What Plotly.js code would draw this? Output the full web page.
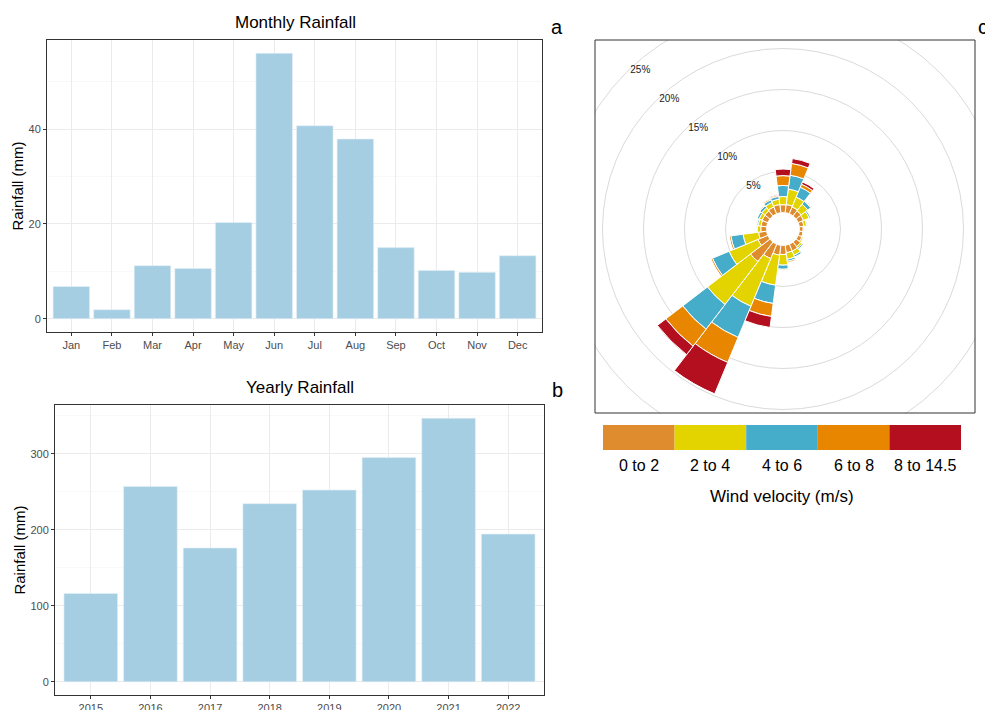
<!DOCTYPE html>
<html>
<head>
<meta charset="utf-8">
<script src="https://cdn.plot.ly/plotly-3.0.1.min.js"></script>
<style>
html,body{margin:0;padding:0;overflow:hidden;background:#fff;width:985px;height:710px;}
#chart{width:1040px;height:710px;}
</style>
</head>
<body>
<div id="chart"></div>
<script>
// ---------- DATA ----------
const months = ['Jan','Feb','Mar','Apr','May','Jun','Jul','Aug','Sep','Oct','Nov','Dec'];
const monthlyRain = [6.8, 1.9, 11.2, 10.6, 20.3, 56.0, 40.7, 37.9, 15.0, 10.2, 9.8, 13.3];

const years = ['2015','2016','2017','2018','2019','2020','2021','2022'];
const yearlyRain = [116.4, 257.3, 176.2, 234.6, 252.5, 295.2, 347.1, 194.5];

const directions = [0,15,30,45,60,75,90,105,120,135,150,165,180,195,210,225,240,255,270,285,300,315,330,345];
const speedBins = ['0 to 2','2 to 4','4 to 6','6 to 8','8 to 14.5'];
// frequency (%) per direction for each wind speed class
const freq0to2  = [0.95,1.0,0.9,0.8,0.7,0.55,0.45,0.45,0.5,0.7,0.9,0.9,1.1,1.2,1.9,3.0,1.3,1.0,0.7,0.7,0.75,0.8,0.9,1.0];
const freq2to4  = [1.0,1.9,1.3,1.0,0.75,0.35,0.1,0.1,0.2,0.25,0.55,0.8,1.3,3.7,6.3,6.6,3.8,1.9,0.45,0.35,0.4,0.45,0.6,0.65];
const freq4to6  = [1.35,1.7,1.3,0.45,0.2,0.1,0,0,0.05,0.15,0.25,0.25,0.5,2.25,4.1,3.8,2.2,1.5,0.05,0.15,0.25,0.3,0.35,0.35];
const freq6to8  = [1.2,1.45,0.4,0.1,0.05,0,0,0,0,0,0.05,0.15,0.1,1.6,3.3,2.6,0.2,0.2,0,0,0,0.1,0.15,0.15];
const freq8to14 = [0.8,0.6,0.3,0.05,0,0,0,0,0,0,0,0,0,1.35,4.15,1.3,0,0,0,0,0,0,0.05,0.1];
const speedFreqs = [freq0to2, freq2to4, freq4to6, freq6to8, freq8to14];
const radialTicks = [5,10,15,20,25];

// ---------- STYLE ----------
const speedColors = ['#DF8C2E','#E3D400','#45ACCA','#E88600','#B30F1F'];
const barColor = '#A6CEE3';
const FONT = 'Liberation Sans, Arial, Helvetica, sans-serif';
const W = 1040, H = 710;
const X = px => px / W;
const Y = py => 1 - py / H;

// polar geometry (pixels)
const cx = 783, cy = 229, r0 = 16.5, pxPerPct = 8.2, rMax = 25.8;
const R = r0 + pxPerPct * rMax;

const traces = [];
traces.push({
  type: 'bar', x: months, y: monthlyRain, xaxis: 'x', yaxis: 'y',
  marker: {color: barColor, line: {color: '#E4F0F7', width: 0.6}}, showlegend: false, hoverinfo: 'x+y'
});
traces.push({
  type: 'bar', x: years, y: yearlyRain, xaxis: 'x2', yaxis: 'y2',
  marker: {color: barColor, line: {color: '#E4F0F7', width: 0.6}}, showlegend: false, hoverinfo: 'x+y'
});
speedBins.forEach((name, i) => {
  traces.push({
    type: 'barpolar', r: speedFreqs[i], theta: directions, name: name,
    marker: {color: speedColors[i], line: {color: '#ffffff', width: 1}},
    showlegend: false, subplot: 'polar'
  });
});

const catAxis = (domain, n, anchor) => ({
  domain: domain, anchor: anchor, type: 'category', range: [-0.6, n - 0.4],
  showline: true, mirror: true, linecolor: '#333333', linewidth: 1,
  showgrid: true, gridcolor: '#EBEBEB', gridwidth: 1, zeroline: false,
  ticks: 'outside', ticklen: 3, tickcolor: '#333333',
  tickfont: {family: FONT, size: 11, color: '#4D4D4D'}, fixedrange: true
});
const valAxis = (domain, range, dtick, anchor) => ({
  domain: domain, anchor: anchor, range: range, dtick: dtick, tick0: 0,
  showline: true, mirror: true, linecolor: '#333333', linewidth: 1,
  showgrid: true, gridcolor: '#EBEBEB', gridwidth: 1, zeroline: false,
  minor: {dtick: dtick / 2, tick0: 0, showgrid: true, gridcolor: '#F4F4F4', gridwidth: 0.6, ticks: ''},
  ticks: 'outside', ticklen: 3, tickcolor: '#333333',
  tickfont: {family: FONT, size: 11, color: '#4D4D4D'},
  title: {text: 'Rainfall (mm)', font: {family: FONT, size: 15, color: '#000'}, standoff: 1},
  fixedrange: true
});

const mMax = Math.max(...monthlyRain), yMax = Math.max(...yearlyRain);

const shapes = [];
// masks to clip the polar panel to its rectangular box
const maskRects = [[548, 0, 1040, 40], [548, 413.5, 1040, 470], [548, 0, 594.5, 470], [975.5, 0, 1040, 470]];
maskRects.forEach(m => shapes.push({
  type: 'rect', xref: 'paper', yref: 'paper', layer: 'above',
  x0: X(m[0]), y0: Y(m[1]), x1: X(m[2]), y1: Y(m[3]),
  fillcolor: '#ffffff', line: {width: 0}
}));
// panel border
shapes.push({type: 'rect', xref: 'paper', yref: 'paper', layer: 'above',
  x0: X(595), y0: Y(40), x1: X(975), y1: Y(413), line: {color: '#333333', width: 1}});
// legend key blocks
const legX0 = 603, legX1 = 961, legW = (legX1 - legX0) / speedBins.length;
speedBins.forEach((b, i) => shapes.push({
  type: 'rect', xref: 'paper', yref: 'paper', layer: 'above',
  x0: X(legX0 + i * legW), x1: X(legX0 + (i + 1) * legW), y0: Y(450), y1: Y(425),
  fillcolor: speedColors[i], line: {width: 0}
}));

const annotations = [
  {text: 'Monthly Rainfall', x: X(295), y: Y(23), size: 17},
  {text: 'Yearly Rainfall', x: X(300), y: Y(387), size: 17},
  {text: 'a', x: X(557), y: Y(27), size: 20},
  {text: 'b', x: X(557), y: Y(390), size: 20},
  {text: 'c', x: X(983), y: Y(27), size: 20},
  {text: 'Wind velocity (m/s)', x: X(782), y: Y(497), size: 17}
].map(a => ({text: a.text, x: a.x, y: a.y, xref: 'paper', yref: 'paper', showarrow: false,
  xanchor: 'center', yanchor: 'middle', font: {family: FONT, size: a.size, color: '#000'}}));
speedBins.forEach((b, i) => annotations.push({
  text: b, x: X(legX0 + (i + 0.5) * legW), y: Y(465), xref: 'paper', yref: 'paper',
  showarrow: false, xanchor: 'center', yanchor: 'middle', font: {family: FONT, size: 16, color: '#000'}
}));

const layout = {
  width: W, height: H, margin: {l: 0, r: 0, t: 0, b: 0, pad: 0},
  paper_bgcolor: '#ffffff', plot_bgcolor: '#ffffff',
  font: {family: FONT}, bargap: 0.1, showlegend: false,
  xaxis: catAxis([X(47), X(542)], months.length, 'y'),
  yaxis: valAxis([Y(332), Y(40)], [-0.05 * mMax, 1.05 * mMax], 20, 'x'),
  xaxis2: catAxis([X(55), X(544)], years.length, 'y2'),
  yaxis2: valAxis([Y(695), Y(405)], [-0.05 * yMax, 1.05 * yMax], 100, 'x2'),
  polar: {
    domain: {x: [X(cx - R), X(cx + R)], y: [Y(cy + R), Y(cy - R)]},
    hole: r0 / R, bargap: 0, barmode: 'stack', bgcolor: 'rgba(0,0,0,0)',
    angularaxis: {direction: 'clockwise', rotation: 90, showgrid: false, showline: false,
      showticklabels: false, ticks: ''},
    radialaxis: {range: [0, rMax], tickvals: radialTicks, ticktext: radialTicks.map(v => v + '%'),
      showline: false, ticks: '', angle: 135, tickangle: 135, gridcolor: '#DADADA', gridwidth: 1,
      tickfont: {family: FONT, size: 10, color: '#1a1a1a'}}
  },
  shapes: shapes, annotations: annotations
};

Plotly.newPlot('chart', traces, layout, {staticPlot: true, displayModeBar: false});
</script>
</body>
</html>
